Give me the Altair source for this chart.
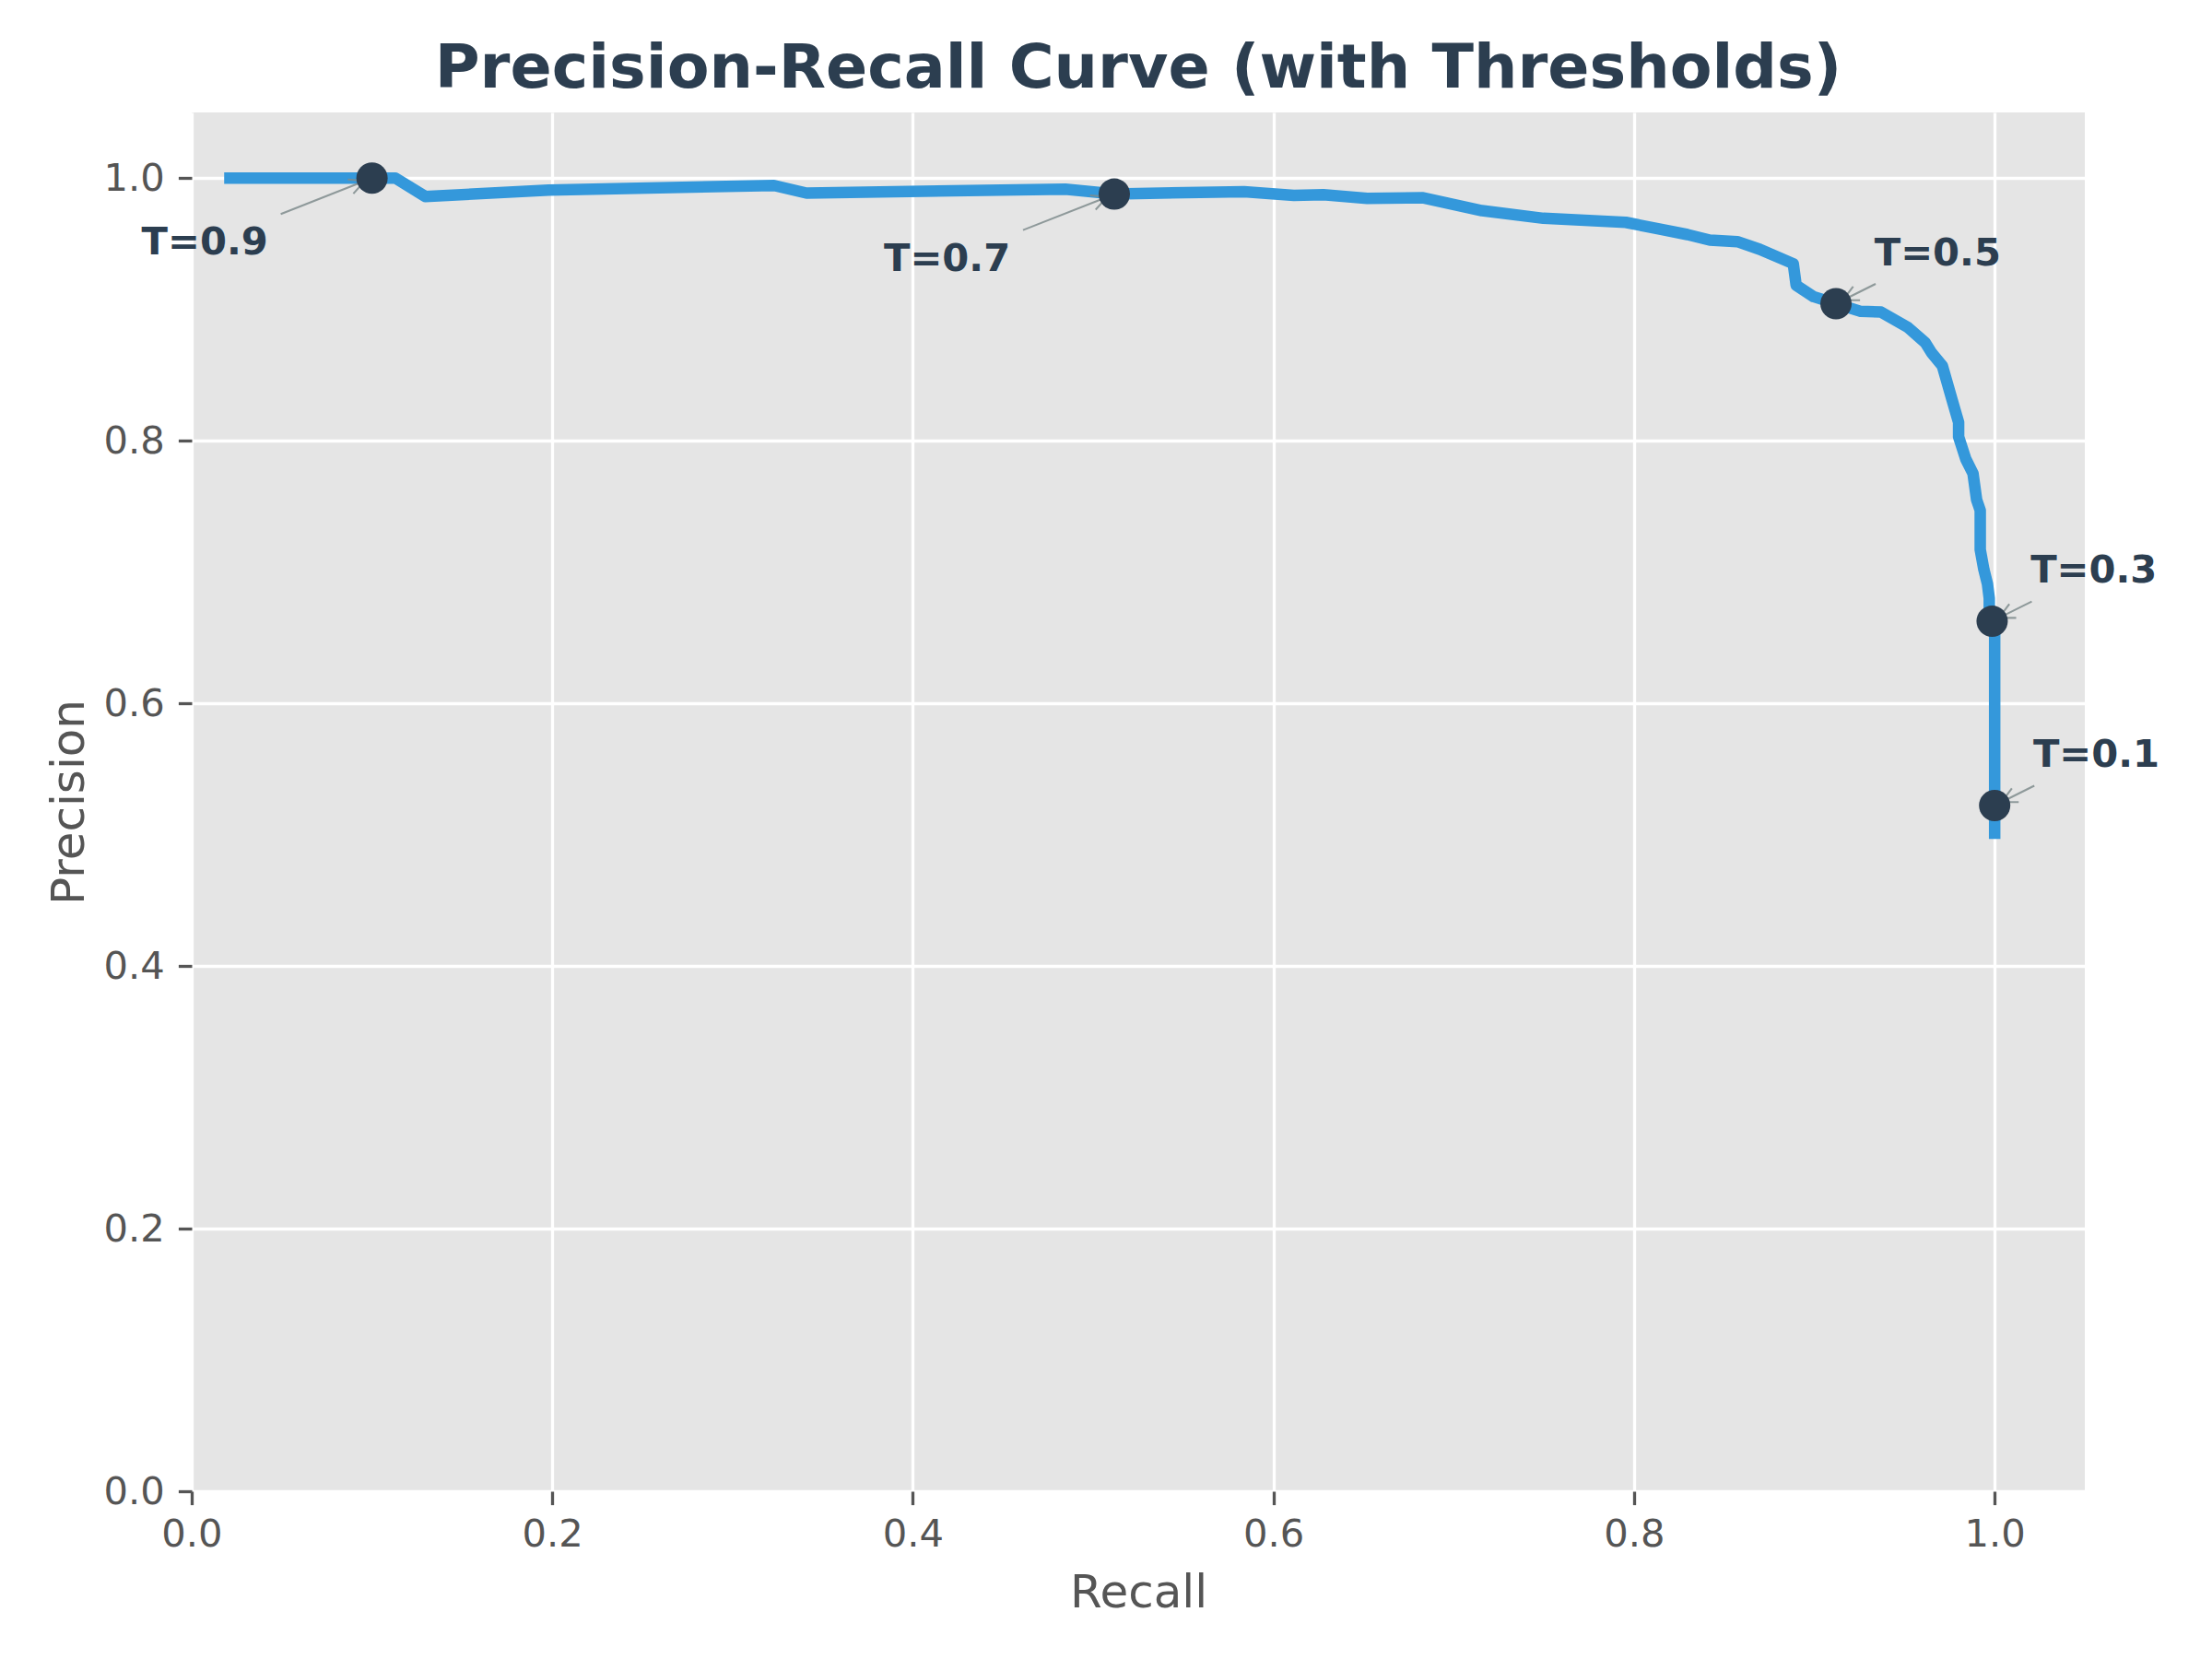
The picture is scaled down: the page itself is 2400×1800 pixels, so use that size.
import altair as alt
import pandas as pd
import numpy as np

# ---- data ----
recall = [0.018, 0.113, 0.1295, 0.198, 0.323, 0.341, 0.4845, 0.512, 0.5837, 0.6113,
          0.6277, 0.652, 0.683, 0.7156, 0.7497, 0.7954, 0.8296, 0.842, 0.8573, 0.8697,
          0.8883, 0.8899, 0.8996, 0.912, 0.9257, 0.937, 0.9518, 0.9615, 0.965, 0.971,
          0.976, 0.980, 0.980, 0.984, 0.988, 0.990, 0.992, 0.992, 0.994, 0.996,
          0.997, 0.997, 1.0, 1.0]
precision = [1.0, 1.0, 0.986, 0.9909, 0.9944, 0.9886, 0.9916, 0.9879, 0.9897, 0.9869,
             0.9874, 0.9846, 0.985, 0.9752, 0.9694, 0.9663, 0.957, 0.9528, 0.9516, 0.9458,
             0.9348, 0.9184, 0.9097, 0.9044, 0.8985, 0.898, 0.8864, 0.8747, 0.867, 0.857,
             0.833, 0.814, 0.803, 0.786, 0.775, 0.755, 0.747, 0.717, 0.702, 0.691,
             0.680, 0.665, 0.660, 0.4967]

thr_labels = ["T=0.9", "T=0.7", "T=0.5", "T=0.3", "T=0.1"]
thr_recall = [0.1, 0.5117, 0.912, 0.9986, 1.0]
thr_precision = [1.0, 0.9878, 0.9044, 0.6625, 0.5222]
thr_side = ["left", "left", "right", "right", "right"]

x_ticks = [0.0, 0.2, 0.4, 0.6, 0.8, 1.0]
y_ticks = [0.0, 0.2, 0.4, 0.6, 0.8, 1.0]

# ---- layout / style ----
W, H = 2054, 1496
XMAX, YMAX = 1.05, 1.05
PX_X = W / XMAX
PX_Y = H / YMAX
FONT = "DejaVu Sans"
DARK = "#2c3e50"
BLUE = "#3498db"
GREY = "#555555"

curve = pd.DataFrame({"recall": recall, "precision": precision, "order": range(len(recall))})
pts = pd.DataFrame({"label": thr_labels, "recall": thr_recall,
                    "precision": thr_precision, "side": thr_side})

# annotation arrows (pixel offsets relative to the marked point; y down)
arrow_start = {"left": (-99.0, 39.0), "right": (43.0, -21.5)}
SHRINK, HEAD_L, HEAD_W = 8.3, 16.7, 8.3
segs = []
for lab, rx, py, side in zip(thr_labels, thr_recall, thr_precision, thr_side):
    sx, sy = arrow_start[side]
    L = np.hypot(sx, sy)
    ux, uy = -sx / L, -sy / L  # unit vector start -> point
    tx, ty = -ux * SHRINK, -uy * SHRINK
    bx, by = tx - ux * HEAD_L, ty - uy * HEAD_L
    px_, py_ = -uy * HEAD_W, ux * HEAD_W
    pieces = [((sx, sy), (tx, ty)),
              ((tx, ty), (bx + px_, by + py_)),
              ((tx, ty), (bx - px_, by - py_))]
    for (a, b) in pieces:
        segs.append({"x": rx + a[0] / PX_X, "y": py - a[1] / PX_Y,
                     "x2": rx + b[0] / PX_X, "y2": py - b[1] / PX_Y})
arrows = pd.DataFrame(segs)

xscale = alt.Scale(domain=[0, XMAX], nice=False, zero=False)
yscale = alt.Scale(domain=[0, YMAX], nice=False, zero=False)

xaxis = alt.Axis(values=x_ticks, format=".1f", title="Recall",
                 titleX=W / 2, titleY=125, titleBaseline="alphabetic",
                 titleAlign="center", labelPadding=12, labelFlush=False)
yaxis = alt.Axis(values=y_ticks, format=".1f", title="Precision",
                 titleX=-118, titleY=H / 2, titleBaseline="alphabetic",
                 titleAlign="center", titleAngle=270, labelPadding=15, labelFlush=False)

line = alt.Chart(curve).mark_line(color=BLUE, strokeWidth=12.5, strokeJoin="round",
                                  strokeCap="butt").encode(
    x=alt.X("recall:Q", scale=xscale, axis=xaxis),
    y=alt.Y("precision:Q", scale=yscale, axis=yaxis),
    order="order:Q",
)

arrow_layer = alt.Chart(arrows).mark_rule(color="#7f8c8d", strokeWidth=2.1, opacity=0.85).encode(
    x=alt.X("x:Q", scale=xscale), y=alt.Y("y:Q", scale=yscale),
    x2="x2:Q", y2="y2:Q",
)

points = alt.Chart(pts).mark_point(shape="circle", filled=True, color=DARK, size=1156,
                                   opacity=1).encode(
    x=alt.X("recall:Q", scale=xscale), y=alt.Y("precision:Q", scale=yscale),
)

text_left = alt.Chart(pts).transform_filter(alt.datum.side == "left").mark_text(
    align="left", baseline="alphabetic", dx=-250, dy=83, font=FONT, fontSize=41.7,
    fontWeight="bold", color=DARK).encode(
    x=alt.X("recall:Q", scale=xscale), y=alt.Y("precision:Q", scale=yscale), text="label:N")

text_right = alt.Chart(pts).transform_filter(alt.datum.side == "right").mark_text(
    align="left", baseline="alphabetic", dx=41.7, dy=-41.7, font=FONT, fontSize=41.7,
    fontWeight="bold", color=DARK).encode(
    x=alt.X("recall:Q", scale=xscale), y=alt.Y("precision:Q", scale=yscale), text="label:N")

chart = alt.layer(line, arrow_layer, points, text_left, text_right).properties(
    width=W, height=H,
    title=alt.TitleParams(text="Precision-Recall Curve (with Thresholds)", font=FONT,
                          fontSize=66.7, fontWeight="bold", color=DARK, anchor="middle",
                          frame="group", baseline="alphabetic", offset=27, dy=67),
    autosize=alt.AutoSizeParams(type="none"),
    padding={"left": 208, "top": 122, "right": 138, "bottom": 182},
    background="white",
).configure_view(fill="#E5E5E5", strokeWidth=0, stroke=None).configure_axis(
    grid=True, gridColor="white", gridWidth=3.3, gridOpacity=1, domain=False,
    tickColor=GREY, tickWidth=3.3, tickSize=14.6,
    labelFont=FONT, labelFontSize=41.7, labelColor=GREY,
    titleFont=FONT, titleFontSize=50, titleColor=GREY, titleFontWeight="normal",
)

chart.save("out.html", embed_options={"renderer": "svg", "actions": False})
